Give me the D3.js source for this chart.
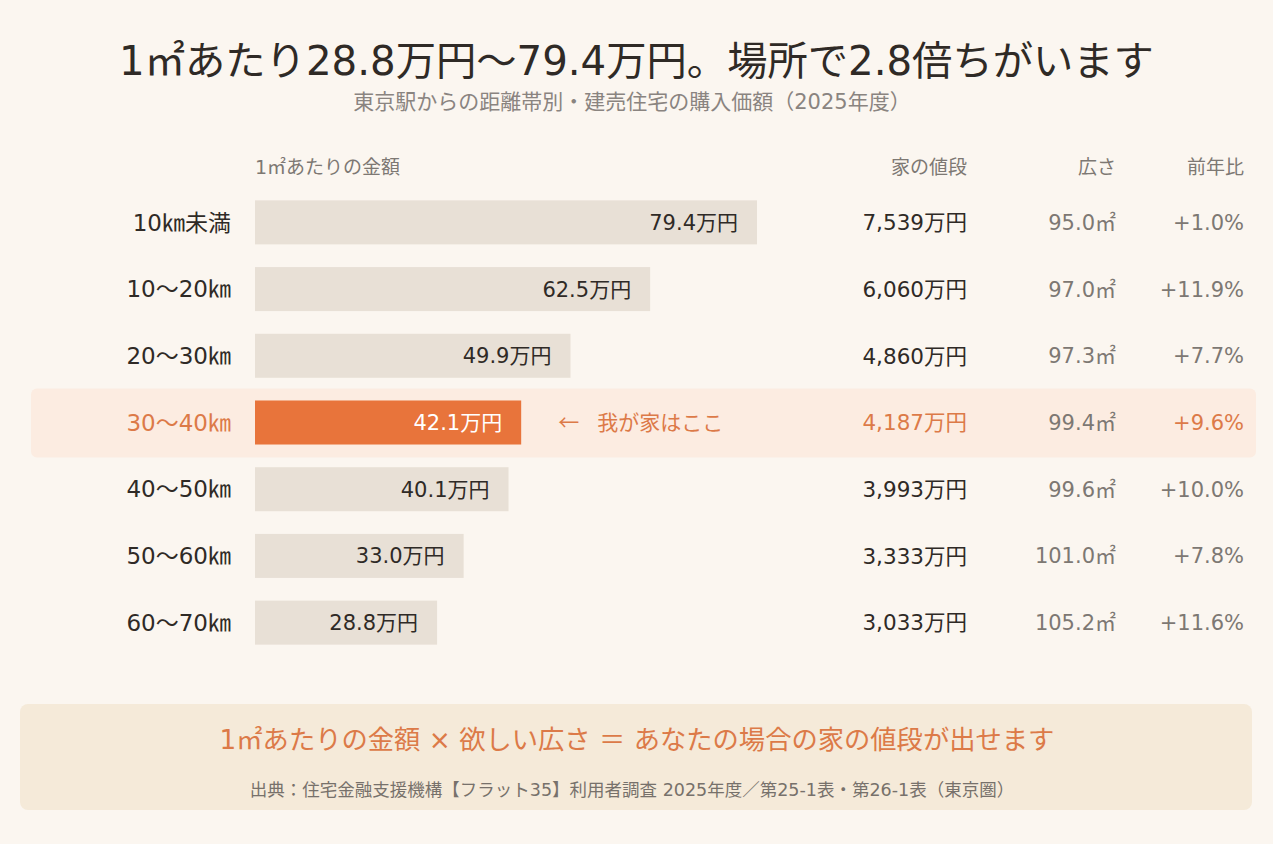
<!DOCTYPE html>
<html><head><meta charset="utf-8">
<script src="https://cdn.jsdelivr.net/npm/d3@7"></script>
<style>
html,body{margin:0;padding:0;background:#FBF6F0;}
svg{display:block;font-family:"DejaVu Sans","Noto Sans CJK JP",sans-serif;}
</style></head><body>
<svg id="c" width="1273" height="844"></svg>
<script>
const categories = ["10㎞未満","10〜20㎞","20〜30㎞","30〜40㎞","40〜50㎞","50〜60㎞","60〜70㎞"];
const perSqm = [79.4, 62.5, 49.9, 42.1, 40.1, 33.0, 28.8];
const price = [7539, 6060, 4860, 4187, 3993, 3333, 3033];
const area = [95.0, 97.0, 97.3, 99.4, 99.6, 101.0, 105.2];
const yoy = [1.0, 11.9, 7.7, 9.6, 10.0, 7.8, 11.6];
const highlightIndex = 3;
const headers = ["1㎡あたりの金額","家の値段","広さ","前年比"];

const svg = d3.select("#c");
const W = 1273;
const orange = "#E8743B", orangeText = "#DC7A48", dark = "#2F2A26", gray = "#7D7873";

svg.append("rect").attr("width",W).attr("height",844).attr("fill","#FBF6F0");

svg.append("text").attr("x",W/2).attr("y",75).attr("text-anchor","middle")
  .attr("font-size",40.3).attr("fill",dark).text("1㎡あたり28.8万円〜79.4万円。場所で2.8倍ちがいます");
svg.append("text").attr("x",632).attr("y",109).attr("text-anchor","middle")
  .attr("font-size",21).attr("fill","#8A8480").text("東京駅からの距離帯別・建売住宅の購入価額（2025年度）");

const x = d3.scaleLinear().domain([0, d3.max(perSqm)]).range([255, 757]);
const y = d3.scaleBand().domain(categories).range([189, 656]).paddingInner(0.34).paddingOuter(0.17);

// header
const hy = 174;
svg.append("text").attr("x",255).attr("y",hy).attr("font-size",19).attr("fill",gray).text(headers[0]);
[[967,headers[1]],[1116,headers[2]],[1244,headers[3]]].forEach(([hx,t])=>{
  svg.append("text").attr("x",hx).attr("y",hy).attr("text-anchor","end").attr("font-size",19).attr("fill",gray).text(t);
});

// highlight band
const hc = y(categories[highlightIndex]) + y.bandwidth()/2;
svg.append("rect").attr("x",31).attr("y",hc-34).attr("width",1225).attr("height",69).attr("rx",6)
  .attr("fill","#FCECE1");

const rows = svg.append("g").selectAll("g").data(categories).join("g")
  .attr("transform",d=>`translate(0,${y(d)})`);
const bh = y.bandwidth();

rows.append("rect").attr("x",x(0)).attr("y",0).attr("height",bh)
  .attr("width",(d,i)=>x(perSqm[i])-x(0))
  .attr("fill",(d,i)=>i===highlightIndex?orange:"#E8E0D6");

rows.append("text").attr("x",231).attr("y",bh/2).attr("dy","0.36em").attr("text-anchor","end")
  .attr("font-size",23).attr("fill",(d,i)=>i===highlightIndex?orangeText:dark).text(d=>d);

rows.append("text").attr("x",(d,i)=>x(perSqm[i])-19).attr("y",bh/2).attr("dy","0.36em").attr("text-anchor","end")
  .attr("font-size",21).attr("fill",(d,i)=>i===highlightIndex?"#FFFFFF":dark)
  .text((d,i)=>perSqm[i].toFixed(1)+"万円");

rows.append("text").attr("x",967).attr("y",bh/2).attr("dy","0.36em").attr("text-anchor","end")
  .attr("font-size",21.5).attr("fill",(d,i)=>i===highlightIndex?orangeText:dark)
  .text((d,i)=>d3.format(",")(price[i])+"万円");

rows.append("text").attr("x",1116).attr("y",bh/2).attr("dy","0.36em").attr("text-anchor","end")
  .attr("font-size",21).attr("fill",gray)
  .text((d,i)=>area[i].toFixed(1)+"㎡");

rows.append("text").attr("x",1244).attr("y",bh/2).attr("dy","0.36em").attr("text-anchor","end")
  .attr("font-size",21).attr("fill",(d,i)=>i===highlightIndex?orangeText:gray)
  .text((d,i)=>"+"+yoy[i].toFixed(1)+"%");

const note = rows.filter((d,i)=>i===highlightIndex).append("text")
  .attr("y",bh/2).attr("dy","0.36em")
  .attr("font-size",21).attr("fill",orangeText)
  .attr("font-family","Noto Sans CJK JP");
note.append("tspan").attr("x",x(perSqm[highlightIndex])+37).text("←");
note.append("tspan").attr("x",x(perSqm[highlightIndex])+76).text("我が家はここ");

// bottom box
svg.append("rect").attr("x",20).attr("y",704).attr("width",1232).attr("height",106).attr("rx",8).attr("fill","#F5EAD9");
svg.append("text").attr("x",637).attr("y",749).attr("text-anchor","middle").attr("font-size",26.3).attr("fill",orangeText)
  .text("1㎡あたりの金額 × 欲しい広さ ＝ あなたの場合の家の値段が出せます");
svg.append("text").attr("x",632).attr("y",796).attr("text-anchor","middle").attr("font-size",17.5).attr("fill","#77716B")
  .text("出典：住宅金融支援機構【フラット35】利用者調査 2025年度／第25-1表・第26-1表（東京圏）");
</script>
</body></html>
